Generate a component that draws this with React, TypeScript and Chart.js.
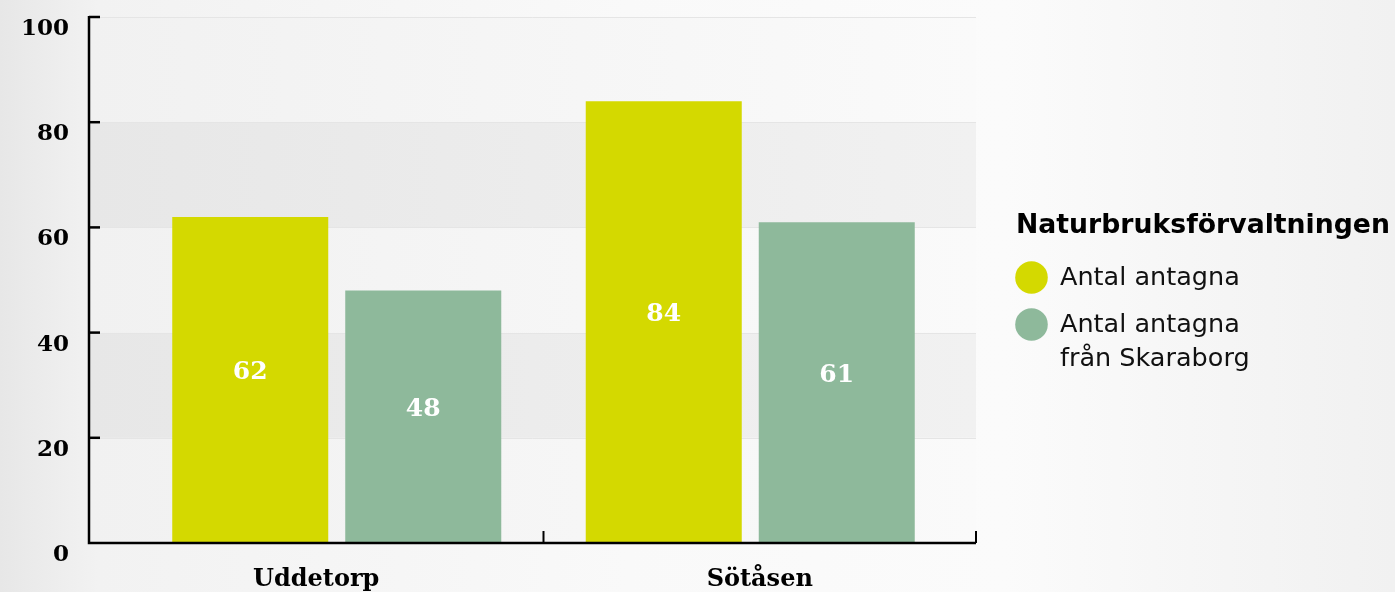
import React, { useEffect, useRef } from "react";
import { Chart, registerables } from "chart.js";

Chart.register(...registerables);

const CATEGORIES = ["Uddetorp", "Sötåsen"];
const ANTAL_ANTAGNA = [62, 84];
const ANTAL_ANTAGNA_SKARABORG = [48, 61];
const SERIES_LINES = [["Antal antagna"], ["Antal antagna", "från Skaraborg"]];
const LEGEND_TITLE = "Naturbruksförvaltningen";
const Y_TICKS = [0, 20, 40, 60, 80, 100];
const COLORS = ["#d4d900", "#8eb99b"];

const SERIF = "'DejaVu Serif', Georgia, serif";
const SANS = "Verdana, 'DejaVu Sans', sans-serif";
const AXIS_EXT_LEFT = 41;
const AXIS_EXT_RIGHT = 19;

const decor = {
  id: "decor",
  beforeDatasetsDraw(chart: any) {
    const { ctx, chartArea } = chart;
    const y = chart.scales.y;
    const L = chartArea.left - AXIS_EXT_LEFT;
    const R = chartArea.right + AXIS_EXT_RIGHT;
    ctx.save();
    for (let i = 0; i < Y_TICKS.length - 1; i++) {
      const yb = y.getPixelForValue(Y_TICKS[i]);
      const yt = y.getPixelForValue(Y_TICKS[i + 1]);
      const dark = i % 2 === 1;
      const g = ctx.createLinearGradient(L, 0, R, 0);
      g.addColorStop(0, dark ? "#e7e7e7" : "#f1f1f1");
      g.addColorStop(1, dark ? "#f1f1f1" : "#fafafa");
      ctx.fillStyle = g;
      ctx.fillRect(L, yt, R - L, yb - yt);
    }
    ctx.strokeStyle = "#e5e5e5";
    ctx.lineWidth = 1;
    for (const v of Y_TICKS) {
      if (v === 0) continue;
      const py = Math.round(y.getPixelForValue(v)) + 0.5;
      ctx.beginPath();
      ctx.moveTo(L, py);
      ctx.lineTo(R, py);
      ctx.stroke();
    }
    ctx.restore();
  },
  afterDatasetsDraw(chart: any) {
    const { ctx, chartArea } = chart;
    const x = chart.scales.x;
    const y = chart.scales.y;
    const L = chartArea.left - AXIS_EXT_LEFT;
    const R = chartArea.right + AXIS_EXT_RIGHT;
    const bottom = y.getPixelForValue(0);
    const top = y.getPixelForValue(100);
    ctx.save();

    // value labels
    ctx.fillStyle = "#ffffff";
    ctx.font = `bold 25px ${SERIF}`;
    ctx.textAlign = "center";
    ctx.textBaseline = "alphabetic";
    chart.data.datasets.forEach((ds: any, di: number) => {
      const meta = chart.getDatasetMeta(di);
      meta.data.forEach((el: any, j: number) => {
        const mid = (el.y + el.base) / 2;
        ctx.fillText(String(ds.data[j]), el.x, mid - 1);
      });
    });

    // axes
    ctx.strokeStyle = "#000000";
    ctx.lineWidth = 2.5;
    ctx.beginPath();
    ctx.moveTo(L, top - 1);
    ctx.lineTo(L, bottom);
    ctx.lineTo(R, bottom);
    ctx.stroke();
    for (const v of Y_TICKS) {
      if (v === 0) continue;
      const py = y.getPixelForValue(v);
      ctx.beginPath();
      ctx.moveTo(L, py);
      ctx.lineTo(L + 11, py);
      ctx.stroke();
    }
    const bounds = [L];
    for (let i = 0; i < CATEGORIES.length - 1; i++) {
      bounds.push((x.getPixelForValue(i) + x.getPixelForValue(i + 1)) / 2);
    }
    bounds.push(R);
    ctx.lineWidth = 2;
    for (let i = 1; i < bounds.length; i++) {
      ctx.beginPath();
      ctx.moveTo(bounds[i], bottom - 12);
      ctx.lineTo(bounds[i], bottom);
      ctx.stroke();
    }

    // y labels
    ctx.fillStyle = "#000000";
    ctx.font = `bold 23px ${SERIF}`;
    ctx.textAlign = "right";
    ctx.textBaseline = "middle";
    for (const v of Y_TICKS) {
      ctx.fillText(String(v), L - 20, y.getPixelForValue(v) + 12);
    }

    // x labels
    ctx.font = `bold 24px ${SERIF}`;
    ctx.textAlign = "center";
    ctx.textBaseline = "alphabetic";
    CATEGORIES.forEach((c, i) => {
      ctx.fillText(c, (bounds[i] + bounds[i + 1]) / 2, bottom + 43);
    });

    ctx.restore();
  },
  afterDraw(chart: any) {
    const { ctx } = chart;
    ctx.save();
    ctx.fillStyle = "#000000";
    ctx.textAlign = "left";
    ctx.textBaseline = "alphabetic";
    ctx.font = `bold 26.7px ${SANS}`;
    ctx.fillText(LEGEND_TITLE, 1016, 233);
    ctx.font = `25.5px ${SANS}`;
    let baseline = 285;
    SERIES_LINES.forEach((lines, i) => {
      ctx.fillStyle = COLORS[i];
      ctx.beginPath();
      ctx.arc(1031.5, baseline - 7.5, 16.3, 0, Math.PI * 2);
      ctx.fill();
      ctx.fillStyle = "#111111";
      lines.forEach((ln, k) => {
        ctx.fillText(ln, 1060, baseline + k * 34);
      });
      baseline += lines.length * 34 + 13;
    });
    ctx.restore();
  },
};

export default function App() {
  const ref = useRef<HTMLCanvasElement | null>(null);

  useEffect(() => {
    if (!ref.current) return;
    const chart = new Chart(ref.current, {
      type: "bar",
      data: {
        labels: CATEGORIES,
        datasets: [
          {
            label: SERIES_LINES[0].join(" "),
            data: ANTAL_ANTAGNA,
            backgroundColor: COLORS[0],
            borderWidth: 0,
            barPercentage: 0.9017,
            categoryPercentage: 0.8368,
          },
          {
            label: SERIES_LINES[1].join(" "),
            data: ANTAL_ANTAGNA_SKARABORG,
            backgroundColor: COLORS[1],
            borderWidth: 0,
            barPercentage: 0.9017,
            categoryPercentage: 0.8368,
          },
        ],
      },
      options: {
        responsive: false,
        animation: false,
        devicePixelRatio: 1,
        layout: { padding: { left: 130, right: 438, top: 17, bottom: 49 } },
        plugins: { legend: { display: false }, tooltip: { enabled: false } },
        scales: {
          x: { display: false },
          y: { display: false, min: 0, max: 100 },
        },
      },
      plugins: [decor],
    });
    return () => chart.destroy();
  }, []);

  return (
    <div
      style={{
        position: "absolute",
        left: 0,
        top: 0,
        width: 1395,
        height: 592,
        overflow: "hidden",
        background:
          "linear-gradient(to right, #e7e7e7 0%, #f2f2f2 7%, #f9f9f9 45%, #fbfbfb 72%, #f5f5f5 88%, #f1f1f1 100%)",
      }}
    >
      <canvas ref={ref} width={1395} height={592} style={{ display: "block" }} />
    </div>
  );
}
